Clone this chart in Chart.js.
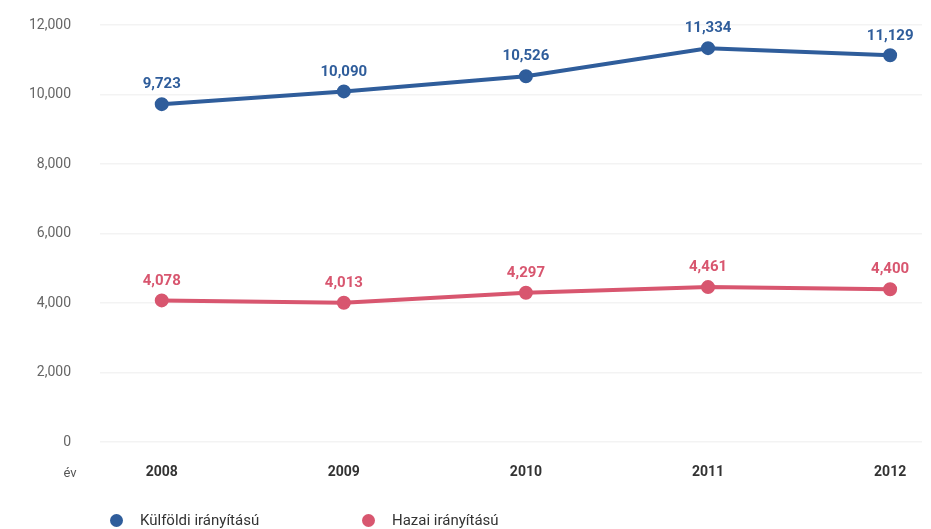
<!DOCTYPE html>
<html>
<head>
<meta charset="utf-8">
<script src="https://cdn.jsdelivr.net/npm/chart.js@4"></script>
<style>
  body { margin: 0; background: #fff; }
  #wrap { position: relative; width: 931px; height: 529px; }
  #legend { position: absolute; top: 511px; left: 0; font-family: "Roboto", sans-serif; font-size: 15px; color: #333; }
  #legend span.item { position: absolute; white-space: nowrap; }
  #legend span.dot { position: absolute; width: 13px; height: 13px; border-radius: 50%; top: 3px; }
</style>
</head>
<body>
<div id="wrap">
  <canvas id="trend" width="931" height="529"></canvas>
  <div id="legend"></div>
</div>
<script>
const years = [2008, 2009, 2010, 2011, 2012];
const foreignValues = [9723, 10090, 10526, 11334, 11129];
const domesticValues = [4078, 4013, 4297, 4461, 4400];
const seriesNames = ["Külföldi irányítású", "Hazai irányítású"];
const yTicks = [0, 2000, 4000, 6000, 8000, 10000, 12000];

const blue = "#2f5d9b";
const red = "#d8566f";
const labelFont = '"Roboto", sans-serif';

// value labels above the points + the "év" axis caption
const pointLabels = {
  id: "pointLabels",
  afterDatasetsDraw(chart) {
    const ctx = chart.ctx;
    ctx.save();
    ctx.textAlign = "center";
    ctx.textBaseline = "bottom";
    ctx.font = "bold 15px " + labelFont;
    chart.data.datasets.forEach((ds, i) => {
      const meta = chart.getDatasetMeta(i);
      ctx.fillStyle = ds.borderColor;
      meta.data.forEach((pt, j) => {
        ctx.fillText(ds.data[j].y.toLocaleString("en-US"), pt.x, pt.y - 12);
      });
    });
    ctx.font = "13px " + labelFont;
    ctx.fillStyle = "#555";
    ctx.textBaseline = "middle";
    ctx.fillText("év", 70, chart.chartArea.bottom + 32);
    ctx.restore();
  }
};

const ctx = document.getElementById("trend");

const trendChart = new Chart(ctx, {
  type: "line",
  data: {
    datasets: [
      {
        label: seriesNames[0],
        data: years.map((y, i) => ({ x: y, y: foreignValues[i] })),
        borderColor: blue,
        backgroundColor: blue,
        borderWidth: 4,
        pointRadius: 5,
        tension: 0
      },
      {
        label: seriesNames[1],
        data: years.map((y, i) => ({ x: y, y: domesticValues[i] })),
        borderColor: red,
        backgroundColor: red,
        borderWidth: 4,
        pointRadius: 5,
        tension: 0
      }
    ]
  },
  plugins: [pointLabels],
  options: {
    responsive: false,
    animation: false,
    layout: {
      padding: { left: 0, right: 6, top: 25, bottom: 26 }
    },
    scales: {
      x: {
        type: "linear",
        min: 2007.661,
        max: 2012.175,
        afterBuildTicks: scale => {
          scale.ticks = years.map(v => ({ value: v }));
        },
        grid: { display: false, drawTicks: false },
        border: { display: false },
        ticks: {
          padding: 22,
          color: "#333",
          font: { family: labelFont, size: 14, weight: "bold" },
          callback: v => String(v)
        }
      },
      y: {
        min: 0,
        max: 12000,
        afterBuildTicks: scale => {
          scale.ticks = yTicks.map(v => ({ value: v }));
        },
        afterFit: scale => {
          scale.width = 100;
          scale.paddingTop = 8;
          scale.paddingBottom = 8;
        },
        grid: { color: "#f3f3f3", lineWidth: 1.5, drawTicks: false },
        border: { display: false },
        ticks: {
          padding: 29,
          color: "#666",
          font: { family: labelFont, size: 14 },
          callback: v => v.toLocaleString("en-US")
        }
      }
    },
    plugins: {
      legend: { display: false },
      tooltip: { enabled: false }
    }
  }
});

// html legend under the chart
const legendPos = [{ dot: 110, text: 140 }, { dot: 362, text: 392 }];
const legendEl = document.getElementById("legend");
seriesNames.forEach((name, i) => {
  const dot = document.createElement("span");
  dot.className = "dot";
  dot.style.left = legendPos[i].dot + "px";
  dot.style.background = i === 0 ? blue : red;
  legendEl.appendChild(dot);
  const txt = document.createElement("span");
  txt.className = "item";
  txt.style.left = legendPos[i].text + "px";
  txt.textContent = name;
  legendEl.appendChild(txt);
});
</script>
</body>
</html>
